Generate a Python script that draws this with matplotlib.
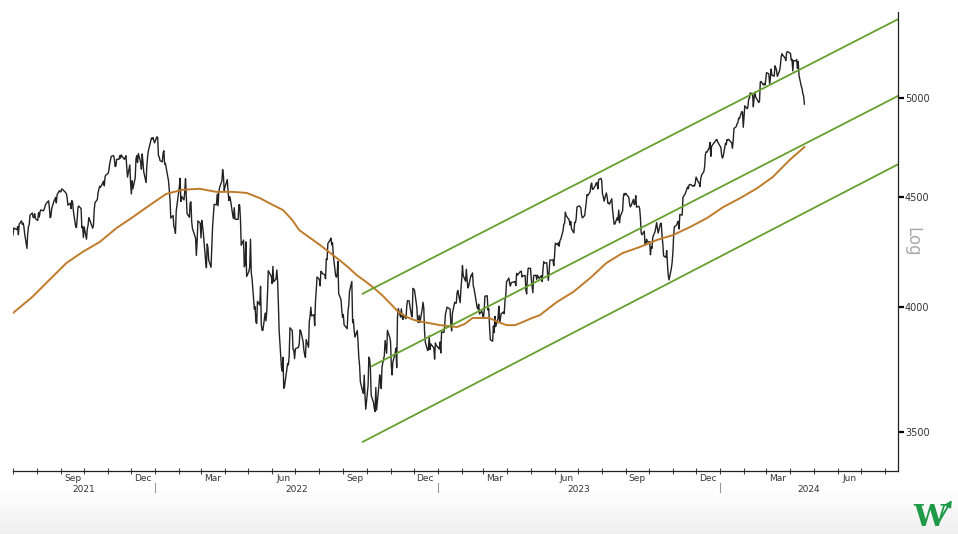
import numpy as np
import pandas as pd
import matplotlib
matplotlib.use("Agg")
import matplotlib.pyplot as plt
import matplotlib.dates as mdates
from matplotlib.transforms import blended_transform_factory

# S&P 500 daily closes, Jul 2021 - Apr 19 2024 (one row per month)
closes = [
    4320, 4352, 4344, 4358, 4321, 4370, 4385, 4369, 4374, 4360, 4327, 4258, 4323, 4359, 4367, 4412, 4422, 4401, 4401, 4419, 4395,
    4387, 4423, 4403, 4429, 4437, 4432, 4437, 4448, 4461, 4468, 4480, 4448, 4400, 4406, 4442, 4480, 4486, 4496, 4470, 4509, 4529, 4523,
    4524, 4537, 4535, 4520, 4514, 4493, 4459, 4469, 4443, 4481, 4474, 4433, 4358, 4354, 4396, 4449, 4455, 4443, 4353, 4359, 4308,
    4357, 4300, 4346, 4364, 4400, 4391, 4361, 4351, 4364, 4438, 4471, 4486, 4520, 4536, 4550, 4545, 4566, 4575, 4552, 4596, 4605,
    4614, 4631, 4661, 4680, 4698, 4702, 4685, 4647, 4649, 4683, 4683, 4701, 4689, 4705, 4698, 4683, 4691, 4701, 4595, 4655, 4567,
    4513, 4577, 4538, 4592, 4687, 4701, 4667, 4712, 4669, 4634, 4710, 4669, 4621, 4568, 4649, 4697, 4726, 4791, 4786, 4793, 4779, 4766,
    4797, 4794, 4701, 4696, 4677, 4670, 4713, 4726, 4659, 4663, 4577, 4533, 4483, 4398, 4410, 4356, 4350, 4327, 4432, 4516,
    4547, 4589, 4477, 4501, 4484, 4522, 4587, 4504, 4419, 4402, 4471, 4475, 4380, 4349, 4305, 4226, 4289, 4385, 4374,
    4306, 4387, 4363, 4329, 4201, 4171, 4278, 4260, 4204, 4173, 4262, 4358, 4412, 4463, 4461, 4512, 4456, 4520, 4543, 4576, 4632, 4602, 4530,
    4546, 4583, 4525, 4481, 4500, 4488, 4413, 4397, 4447, 4393, 4392, 4462, 4459, 4394, 4272, 4296, 4175, 4184, 4288, 4132,
    4155, 4175, 4300, 4147, 4123, 3991, 4001, 3935, 3930, 4024, 4008, 4089, 3924, 3901, 3901, 3974, 3941, 3979, 4058, 4158, 4132,
    4101, 4177, 4109, 4121, 4161, 4116, 4018, 3901, 3750, 3735, 3790, 3667, 3675, 3765, 3760, 3796, 3912, 3900, 3822, 3819, 3785,
    3825, 3831, 3845, 3903, 3899, 3854, 3819, 3802, 3790, 3863, 3831, 3937, 3960, 3999, 3962, 3967, 3921, 4024, 4072, 4130,
    4119, 4091, 4155, 4152, 4145, 4140, 4122, 4210, 4207, 4280, 4297, 4305, 4274, 4284, 4228, 4138, 4129, 4141, 4199, 4058, 4031, 3986, 3955,
    3967, 3924, 3908, 3980, 4006, 4067, 4110, 3933, 3946, 3901, 3873, 3900, 3856, 3790, 3758, 3693, 3655, 3647, 3719, 3640, 3586,
    3678, 3791, 3783, 3745, 3640, 3612, 3589, 3577, 3670, 3583, 3678, 3720, 3695, 3666, 3753, 3797, 3859, 3831, 3807, 3901, 3872,
    3856, 3760, 3720, 3771, 3807, 3828, 3749, 3956, 3993, 3957, 3992, 3959, 3947, 3965, 3950, 4004, 4027, 4026, 3964, 3958, 4080,
    4077, 4072, 3999, 3941, 3934, 3964, 3934, 3991, 4020, 3995, 3896, 3852, 3818, 3822, 3878, 3822, 3845, 3829, 3783, 3849, 3840,
    3824, 3853, 3808, 3895, 3892, 3919, 3970, 3983, 3999, 3991, 3929, 3899, 3973, 4020, 4017, 4016, 4060, 4071, 4018, 4077,
    4119, 4180, 4136, 4111, 4164, 4118, 4082, 4090, 4137, 4136, 4148, 4090, 4079, 3997, 3991, 4012, 3970, 3982, 3970,
    3951, 3981, 4046, 4048, 3986, 3992, 3918, 3862, 3856, 3919, 3892, 3960, 3917, 3952, 4003, 3937, 3949, 3971, 3978, 3971, 4028, 4051, 4109,
    4125, 4101, 4090, 4105, 4109, 4109, 4092, 4146, 4138, 4151, 4155, 4155, 4130, 4134, 4137, 4072, 4056, 4135, 4169,
    4168, 4120, 4091, 4061, 4136, 4138, 4119, 4138, 4131, 4124, 4136, 4110, 4159, 4198, 4192, 4193, 4146, 4115, 4151, 4205, 4206, 4180,
    4221, 4282, 4274, 4284, 4268, 4294, 4299, 4339, 4369, 4373, 4426, 4410, 4389, 4366, 4382, 4348, 4329, 4378, 4377, 4396, 4450,
    4456, 4447, 4412, 4399, 4410, 4439, 4472, 4510, 4505, 4523, 4555, 4566, 4535, 4536, 4555, 4567, 4567, 4537, 4582, 4589,
    4577, 4513, 4502, 4478, 4518, 4499, 4468, 4469, 4464, 4490, 4438, 4404, 4370, 4370, 4400, 4388, 4436, 4376, 4406, 4433, 4498, 4515, 4508,
    4516, 4497, 4465, 4451, 4457, 4487, 4462, 4467, 4505, 4450, 4454, 4444, 4402, 4330, 4320, 4337, 4274, 4275, 4300, 4288,
    4288, 4229, 4264, 4258, 4309, 4336, 4358, 4377, 4350, 4328, 4374, 4373, 4315, 4278, 4224, 4217, 4248, 4187, 4137, 4117, 4167, 4194,
    4238, 4318, 4358, 4366, 4378, 4383, 4347, 4415, 4412, 4496, 4503, 4508, 4514, 4547, 4538, 4557, 4559, 4550, 4555, 4551, 4568,
    4595, 4570, 4567, 4549, 4586, 4604, 4622, 4644, 4707, 4720, 4719, 4741, 4768, 4698, 4747, 4755, 4775, 4782, 4783, 4770,
    4743, 4705, 4689, 4697, 4764, 4757, 4783, 4780, 4784, 4766, 4739, 4781, 4840, 4850, 4865, 4869, 4894, 4891, 4928, 4925, 4846,
    4906, 4959, 4943, 4954, 4995, 4998, 5027, 5022, 4953, 5001, 5030, 5006, 4976, 4982, 5087, 5089, 5070, 5078, 5070, 5096,
    5137, 5131, 5079, 5105, 5157, 5124, 5118, 5175, 5165, 5150, 5117, 5149, 5179, 5225, 5242, 5234, 5218, 5204, 5248, 5254,
    5244, 5206, 5211, 5147, 5204, 5202, 5210, 5161, 5199, 5123, 5062, 5051, 5022, 5011, 4967,
]

holidays = ['2021-07-05', '2021-09-06', '2021-11-25', '2021-12-24', '2022-01-17', '2022-02-21',
            '2022-04-15', '2022-05-30', '2022-06-20', '2022-07-04', '2022-09-05', '2022-11-24',
            '2022-12-26', '2023-01-02', '2023-01-16', '2023-02-20', '2023-04-07', '2023-05-29',
            '2023-06-19', '2023-07-04', '2023-09-04', '2023-11-23', '2023-12-25', '2024-01-01',
            '2024-01-15', '2024-02-19', '2024-03-29']

# moving average
ma_dates = ['2021-07-01', '2021-07-26', '2021-08-17', '2021-09-08', '2021-09-29', '2021-10-21',
            '2021-11-12', '2021-12-03', '2021-12-25', '2022-01-15', '2022-02-05', '2022-02-27',
            '2022-03-21', '2022-04-11', '2022-04-29', '2022-05-16', '2022-06-02', '2022-06-15',
            '2022-06-27', '2022-07-06', '2022-08-02', '2022-08-27', '2022-09-07', '2022-09-18',
            '2022-09-29', '2022-10-09', '2022-10-21', '2022-10-31', '2022-11-11', '2022-11-22',
            '2022-12-02', '2022-12-13', '2023-01-04', '2023-01-26', '2023-02-05', '2023-02-15',
            '2023-03-09', '2023-03-20', '2023-03-31', '2023-04-11', '2023-04-21', '2023-05-03',
            '2023-05-13', '2023-06-04', '2023-06-25', '2023-07-17', '2023-08-07', '2023-08-28',
            '2023-09-19', '2023-10-11', '2023-11-01', '2023-11-23', '2023-12-15', '2024-01-05',
            '2024-01-27', '2024-02-18', '2024-03-09', '2024-03-31', '2024-04-19']
ma_vals = [3974, 4043, 4117, 4192, 4242, 4287,
           4352, 4403, 4460, 4513, 4533, 4538,
           4523, 4523, 4518, 4493, 4460, 4436,
           4389, 4342, 4273, 4205, 4174, 4139,
           4112, 4086, 4051, 4017, 3979, 3957,
           3944, 3936, 3923, 3915, 3928, 3953,
           3953, 3936, 3923, 3923, 3936, 3953,
           3965, 4021, 4064, 4125, 4192, 4237,
           4264, 4296, 4319, 4356, 4398, 4450,
           4493, 4541, 4595, 4680, 4745]

# trend channel (start date, start value, end date, end value)
channels = [('2022-09-26', 4057, '2024-08-18', 5439),
            ('2022-10-08', 3755, '2024-08-18', 5011),
            ('2022-09-26', 3463, '2024-08-18', 4658)]

yticks = [3500, 4000, 4500, 5000]

days = pd.bdate_range('2021-07-01', '2024-04-19', freq='C', holidays=holidays)
n = min(len(days), len(closes))
days = days[:n]
closes = closes[:n]

fig = plt.figure(figsize=(9.58, 5.34), dpi=100)

# light grey band at the bottom
bg = fig.add_axes([0, 0, 1, 0.086], zorder=-5)
grad = np.linspace(0, 0.13, 50).reshape(-1, 1)
bg.imshow(grad, aspect='auto', cmap='Greys', vmin=0, vmax=1, extent=[0, 1, 0, 1])
bg.axis('off')

ax = fig.add_axes([13/958, 1 - 471/534, 885/958, 459/534])
ax.patch.set_alpha(0)

ax.plot(days, closes, color='#222222', lw=1.0)
ax.plot(pd.to_datetime(ma_dates), ma_vals, color='#bf7b2a', lw=1.4)
for d0, v0, d1, v1 in channels:
    ax.plot(pd.to_datetime([d0, d1]), [v0, v1], color='#66a02c', lw=1.3)

ax.set_yscale('log')
ax.set_ylim(3357, 5481)
ax.set_xlim(pd.Timestamp('2021-07-01'), pd.Timestamp('2024-08-18'))

ax.yaxis.tick_right()
ax.set_yticks(yticks)
ax.set_yticklabels([str(t) for t in yticks])
ax.yaxis.set_minor_locator(matplotlib.ticker.NullLocator())
ax.tick_params(axis='y', direction='out', length=4, width=1.6, pad=1,
               labelsize=7, labelcolor='#333333')
ax.text(1.0158, 0.5, 'Log', transform=ax.transAxes, rotation=270, fontsize=12,
        color='#aaaaaa', ha='center', va='center')

for s in ['left', 'top']:
    ax.spines[s].set_visible(False)
for s in ['bottom', 'right']:
    ax.spines[s].set_linewidth(0.9)
    ax.spines[s].set_color('#222222')

# months as ticks, quarter names and years as text
ax.xaxis.set_major_locator(mdates.MonthLocator())
ax.xaxis.set_major_formatter(matplotlib.ticker.NullFormatter())
ax.tick_params(axis='x', direction='inout', length=4, width=0.8, color='#444444')

trans = blended_transform_factory(ax.transData, ax.transAxes)
x0, x1 = ax.get_xlim()
for m in pd.date_range('2021-07-01', '2024-08-01', freq='MS'):
    if m.month in (3, 6, 9, 12):
        mid = mdates.date2num(m + pd.Timedelta(days=15))
        if mid < x1:
            ax.text(mid, -0.016, m.strftime('%b'), transform=trans, ha='center', va='center',
                    fontsize=6.5, color='#333333', clip_on=False)
for yr in [2021, 2022, 2023, 2024]:
    a = max(mdates.date2num(pd.Timestamp(f'{yr}-01-01')), x0)
    b = min(mdates.date2num(pd.Timestamp(f'{yr + 1}-01-01')), x1)
    ax.text((a + b) / 2, -0.040, str(yr), transform=trans, ha='center', va='center',
            fontsize=6.5, color='#333333', clip_on=False)
    if yr > 2021:
        ax.plot([a, a], [-0.026, -0.046], transform=trans, color='#999999', lw=0.8, clip_on=False)

# logo
fig.text(0.970, 0.004, 'W', fontsize=21, fontweight='bold', family='DejaVu Serif',
         color='#1f9a48', ha='center', va='bottom')
fig.patches.append(matplotlib.patches.FancyArrowPatch((0.979, 0.02), (0.995, 0.068), transform=fig.transFigure,
                                                      arrowstyle='-|>', mutation_scale=9, color='#1f9a48', lw=1.4))

fig.savefig('out.png', dpi=100)
